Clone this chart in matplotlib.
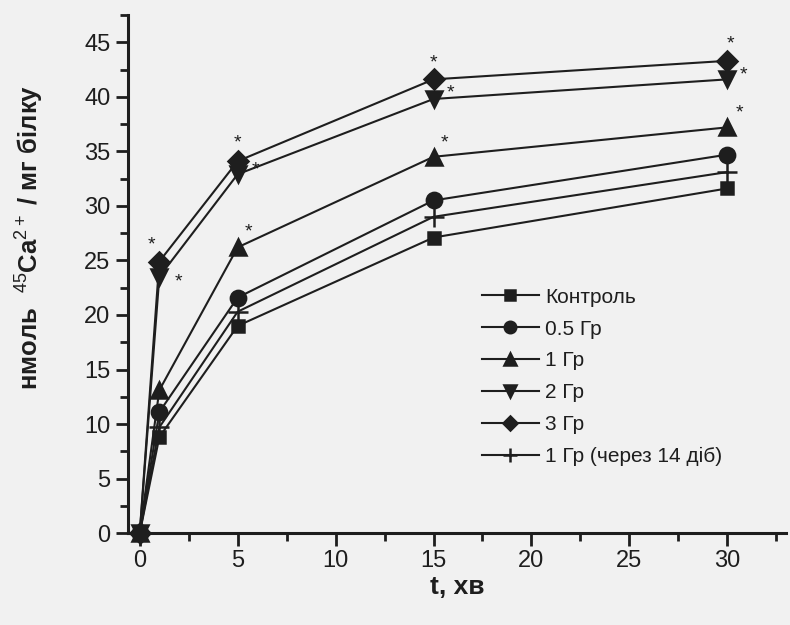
import matplotlib.pyplot as plt
from matplotlib.ticker import MultipleLocator

plt.rcParams['font.family'] = ['Liberation Sans', 'DejaVu Sans']
plt.rcParams['mathtext.fontset'] = 'custom'
plt.rcParams['mathtext.rm'] = 'Liberation Sans'
plt.rcParams['mathtext.it'] = 'Liberation Sans'
plt.rcParams['mathtext.bf'] = 'Liberation Sans:bold'

# час, хв
t = [0, 1, 5, 15, 30]

control = [0, 8.8, 19.0, 27.1, 31.6]
gy05 = [0, 11.1, 21.6, 30.5, 34.7]
gy1 = [0, 13.1, 26.2, 34.5, 37.2]
gy2 = [0, 23.5, 32.9, 39.8, 41.6]
gy3 = [0, 24.9, 34.1, 41.6, 43.3]
gy1_14 = [0, 9.7, 20.3, 29.0, 33.1]

labels = ['Контроль', '0.5 Гр', '1 Гр', '2 Гр', '3 Гр', '1 Гр (через 14 діб)']
markers = ['s', 'o', '^', 'v', 'D', '+']
sizes = [9, 11, 11, 11, 10, 14]

ink = '#1e1e1e'

fig = plt.figure(figsize=(7.9, 6.25), dpi=100, facecolor='#f1f1f1')
ax = fig.add_axes([0.162, 0.147, 0.833, 0.829])
ax.set_facecolor('#f1f1f1')

series = [control, gy05, gy1, gy2, gy3, gy1_14]
for vals, lab, m, s in zip(series, labels, markers, sizes):
    ax.plot(t, vals, color=ink, lw=1.5, marker=m, ms=s, mew=1.8,
            mfc=ink, mec=ink, label=lab, clip_on=False, zorder=3)

# зірочки (достовірні відмінності)
stars = [(1, gy3[1], -6, 12), (1, gy2[1], 14, -4),
         (5, gy3[2], 0, 13), (5, gy2[2], 13, 3), (5, gy1[2], 8, 11),
         (15, gy3[3], 0, 12), (15, gy2[3], 12, 4), (15, gy1[3], 8, 10),
         (30, gy3[4], 2, 12), (30, gy2[4], 12, 3), (30, gy1[4], 9, 10)]
for x, y, dx, dy in stars:
    ax.annotate('*', (x, y), xytext=(dx, dy), textcoords='offset points',
                ha='center', va='center', fontsize=14, color=ink)

ax.set_xlim(-0.6, 33)
ax.set_ylim(0, 47.5)
ax.xaxis.set_major_locator(MultipleLocator(5))
ax.xaxis.set_minor_locator(MultipleLocator(2.5))
ax.yaxis.set_major_locator(MultipleLocator(5))
ax.yaxis.set_minor_locator(MultipleLocator(2.5))
ax.set_xticks([0, 5, 10, 15, 20, 25, 30])

for side in ['top', 'right']:
    ax.spines[side].set_visible(False)
for side in ['left', 'bottom']:
    ax.spines[side].set_linewidth(2.2)
    ax.spines[side].set_color(ink)

ax.tick_params(axis='both', which='major', labelsize=17, length=9, width=2,
               colors=ink, direction='out')
ax.tick_params(axis='both', which='minor', length=6, width=2, colors=ink,
               direction='out')

ax.set_xlabel('t, хв', fontsize=19, fontweight='bold', color=ink, labelpad=2)
ax.set_ylabel('нмоль  $^{45}$Ca$^{2+}$ / мг білку', fontsize=18.5,
              fontweight='bold', color=ink)
ax.yaxis.set_label_coords(-0.125, 0.57)

leg = ax.legend(loc='upper left', bbox_to_anchor=(0.51, 0.51), frameon=False,
                fontsize=15, handlelength=2.7, labelspacing=0.62,
                handletextpad=0.3, numpoints=1, markerscale=0.75)
for txt in leg.get_texts():
    txt.set_color(ink)

fig.savefig('out.png', dpi=100, facecolor=fig.get_facecolor())
